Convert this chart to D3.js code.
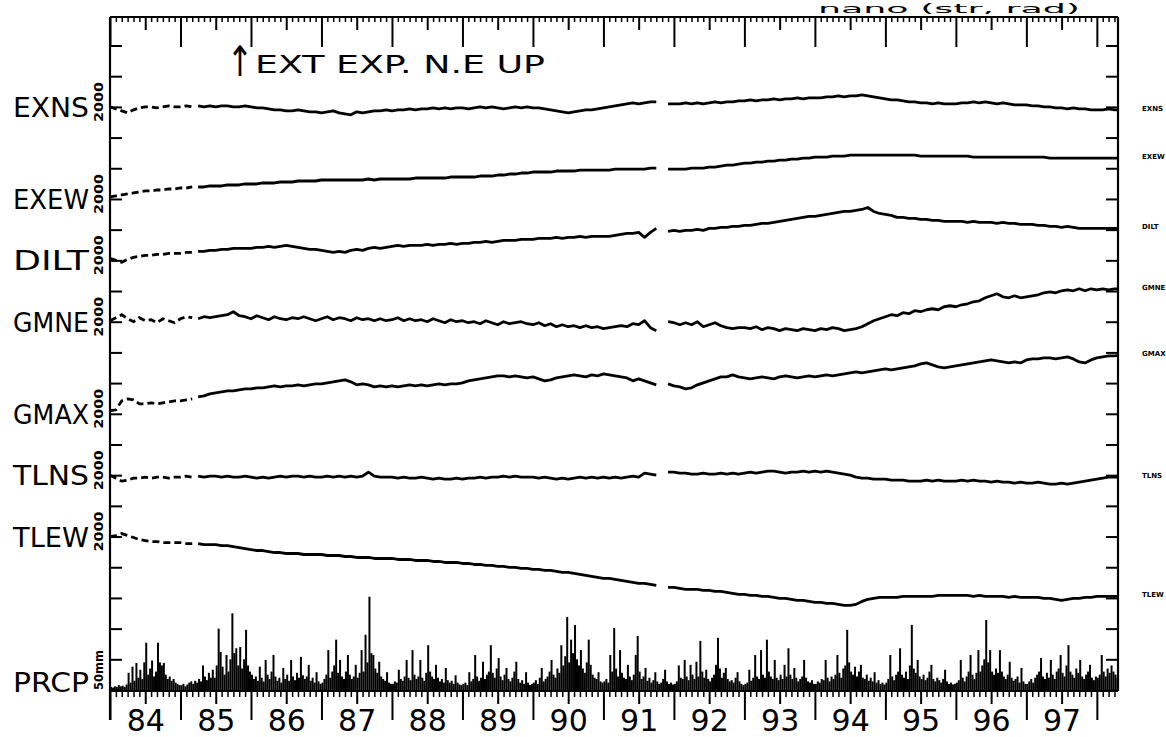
<!DOCTYPE html>
<html><head><meta charset="utf-8">
<script src="https://cdn.jsdelivr.net/npm/d3@7"></script>
<style>
html,body{margin:0;padding:0;background:#fff;}
svg{display:block;}
text{font-family:"DejaVu Sans",sans-serif;fill:#000;}
</style></head><body>
<svg id="chart" width="1166" height="737"></svg>
<script>
// ---------------- DATA ----------------
const startYear = 1984, endYear = 1998.3;
const yearLabels = ["84","85","86","87","88","89","90","91","92","93","94","95","96","97"];
const seriesNames = ["EXNS","EXEW","DILT","GMNE","GMAX","TLNS","TLEW"];
// vertical offset of each trace (nano units, 2000 per tick)
const seriesOffsets = [38000, 32000, 28000, 24000, 18000, 14000, 10000];
const scaleLabel = "2000", prcpLabel = "50mm", prcpName = "PRCP";
const annotation = "EXT EXP. N.E UP";
const unitTitle = "nano (str, rad)";
const sparseUntil = 1985.2; // early period with sparse records (dashed)

// monthly values, nano (strain / rad), from Jan 1984; null = data gap
const exns = [
  0,-130,-260,-390,-195,-65,0,0,-65,0,65,0,
  0,65,0,65,0,65,0,65,65,0,0,65,
  0,-65,-65,-130,-195,-195,-260,-260,-195,-260,-325,-325,
  -390,-325,-260,-390,-455,-520,-325,-390,-325,-260,-260,-195,
  -260,-195,-195,-130,-195,-130,-130,-65,-130,-65,-130,-65,
  -65,-130,-65,0,-65,0,-65,-130,-65,0,-65,0,
  -65,-65,-130,-195,-260,-325,-390,-325,-260,-195,-195,-130,
  -65,0,65,130,195,260,195,260,325,325,null,195,
  195,195,260,195,260,195,260,325,260,325,325,390,
  390,455,390,455,455,520,455,520,520,585,520,585,
  585,585,650,650,715,650,715,715,780,715,650,585,
  520,455,455,390,325,325,260,260,195,260,195,195,
  195,260,260,325,260,325,260,195,260,195,130,130,
  130,65,65,0,0,-65,-65,-130,-65,-130,-130,-195,
  -195,-195,-130,-195,-195];
const exew = [
  130,195,260,325,390,455,520,520,585,585,650,650,
  715,715,780,780,780,845,845,845,910,910,910,975,
  975,975,1040,1040,1040,1105,1105,1105,1170,1170,1170,1170,
  1235,1235,1235,1235,1235,1235,1235,1235,1300,1235,1300,1300,
  1300,1300,1300,1300,1365,1365,1365,1365,1365,1365,1430,1430,
  1430,1430,1430,1495,1495,1495,1560,1560,1625,1625,1690,1690,
  1755,1755,1755,1755,1820,1820,1820,1820,1885,1885,1885,1885,
  1885,1885,1950,1950,1950,1950,1950,1950,2015,2015,null,1950,
  1950,1950,1950,2015,2015,2015,2080,2080,2145,2210,2210,2275,
  2340,2340,2405,2405,2470,2470,2535,2535,2600,2600,2665,2665,
  2730,2730,2730,2795,2795,2795,2860,2860,2860,2860,2860,2860,
  2860,2860,2860,2860,2860,2860,2795,2795,2795,2795,2795,2795,
  2795,2795,2795,2730,2730,2730,2730,2730,2730,2730,2730,2730,
  2730,2730,2730,2730,2665,2665,2665,2665,2665,2665,2665,2665,
  2665,2665,2665,2665,2665];
const dilt = [
  130,0,-130,65,195,260,325,325,390,390,455,455,
  455,520,520,585,585,650,650,715,715,780,780,780,
  780,845,845,910,845,910,975,910,845,780,715,715,
  650,585,520,585,520,650,715,650,780,845,780,845,
  910,975,910,975,975,975,1040,975,1040,1040,1105,1040,
  1105,1105,1170,1170,1235,1170,1235,1300,1300,1300,1365,1365,
  1365,1430,1430,1430,1495,1430,1495,1495,1560,1495,1560,1560,
  1560,1560,1625,1690,1755,1755,1820,1495,1820,2080,null,1885,
  1950,1885,1950,1950,2015,1950,2080,2080,2145,2145,2210,2210,
  2275,2275,2340,2405,2405,2470,2535,2600,2665,2730,2795,2860,
  2860,2925,2990,3055,3120,3185,3185,3250,3315,3445,3185,3055,
  2990,2925,2795,2795,2730,2730,2665,2665,2600,2600,2535,2535,
  2535,2535,2470,2535,2470,2470,2470,2405,2470,2405,2405,2340,
  2340,2340,2275,2275,2210,2210,2145,2210,2145,2080,2080,2080,
  2080,2080,2080,2080,2080];
const gmne = [
  65,260,455,195,0,260,65,130,-65,195,65,-65,
  195,325,260,195,325,260,325,390,455,650,390,325,
  195,390,260,130,325,195,130,260,195,325,195,65,
  195,325,130,260,195,65,260,130,195,65,195,65,
  130,260,65,195,65,130,0,195,65,-65,130,0,
  65,-65,0,-130,65,-65,-195,0,-130,-65,0,-130,
  -195,-65,-260,-130,-325,-195,-325,-260,-390,-260,-390,-325,
  -455,-390,-325,-260,-325,-130,-195,65,-390,-585,null,0,
  -65,-195,-65,-195,0,-325,-195,-65,-260,-390,-455,-390,
  -390,-455,-325,-520,-390,-455,-585,-455,-520,-585,-455,-520,
  -585,-455,-520,-390,-455,-585,-520,-455,-325,-130,65,195,
  325,455,390,585,520,715,650,780,845,780,975,1040,
  975,1105,1170,1300,1365,1560,1690,1820,1625,1560,1690,1560,
  1625,1690,1755,1885,1950,1885,2015,2080,2015,2145,2015,2145,
  2080,2145,2080,2145,2145];
const gmax = [
  195,260,845,975,910,650,650,715,650,715,780,845,
  845,910,975,1105,1170,1300,1365,1430,1495,1495,1560,1625,
  1625,1690,1690,1755,1820,1755,1820,1820,1885,1820,1885,1950,
  1950,2015,2080,2145,2210,2080,1885,1950,1885,1755,1820,1755,
  1820,1755,1820,1885,1820,1885,1820,1885,1950,1885,1950,1950,
  2015,2145,2210,2275,2340,2405,2470,2470,2405,2470,2405,2340,
  2405,2275,2145,2210,2340,2405,2470,2535,2470,2405,2535,2470,
  2600,2535,2470,2405,2340,2145,2275,2145,2015,1885,null,1950,
  1820,1755,1625,1690,1885,2015,2145,2275,2405,2405,2535,2405,
  2340,2275,2340,2405,2340,2275,2405,2470,2405,2340,2405,2470,
  2405,2470,2535,2470,2535,2600,2665,2730,2665,2730,2795,2860,
  2925,2860,2925,2990,3055,3120,3250,3315,3185,3055,2990,3055,
  3120,3185,3250,3315,3380,3445,3510,3445,3380,3315,3380,3315,
  3510,3575,3575,3640,3640,3575,3640,3705,3575,3380,3315,3510,
  3640,3705,3770,3770,3835];
const tlns = [
  0,-195,-390,-325,-195,-195,-130,-195,-130,-130,-195,-130,
  -130,-65,-130,-65,-130,-65,-65,-130,-65,-130,-130,-65,
  -130,-195,-130,-195,-130,-65,-130,-65,-65,-130,-65,-130,
  -130,-65,-130,-65,-130,-65,-130,-65,195,-65,-130,-130,
  -130,-195,-130,-195,-195,-130,-195,-260,-195,-260,-260,-195,
  -260,-195,-195,-130,-195,-130,-130,-65,-130,-65,-130,-130,
  -130,-195,-130,-195,-260,-195,-260,-195,-130,-195,-130,-195,
  -130,-195,-130,-195,-130,-65,-130,130,65,0,null,195,
  195,130,130,65,65,130,65,65,130,65,130,65,
  130,195,130,195,260,260,195,130,195,195,260,195,
  260,195,260,195,130,65,0,-130,-195,-195,-260,-260,
  -260,-325,-325,-325,-390,-390,-390,-325,-390,-325,-390,-390,
  -390,-325,-390,-325,-390,-390,-455,-390,-455,-455,-520,-455,
  -520,-520,-455,-520,-585,-585,-520,-585,-520,-455,-390,-325,
  -260,-195,-130,-130,-130];
const tlew = [
  0,65,195,65,-65,-195,-260,-325,-325,-390,-390,-390,
  -390,-455,-455,-455,-520,-520,-520,-585,-585,-650,-715,-780,
  -845,-910,-910,-975,-1040,-1040,-1105,-1105,-1105,-1170,-1170,-1170,
  -1170,-1235,-1235,-1235,-1300,-1300,-1365,-1365,-1365,-1430,-1430,-1430,
  -1430,-1495,-1495,-1495,-1560,-1560,-1560,-1625,-1625,-1690,-1690,-1690,
  -1755,-1755,-1820,-1820,-1885,-1885,-1950,-1950,-2015,-2015,-2080,-2080,
  -2145,-2145,-2210,-2210,-2275,-2340,-2340,-2405,-2470,-2535,-2600,-2665,
  -2730,-2730,-2795,-2860,-2925,-2990,-3055,-3055,-3120,-3185,null,-3315,
  -3315,-3380,-3445,-3445,-3445,-3510,-3510,-3575,-3575,-3640,-3705,-3770,
  -3770,-3835,-3835,-3900,-3900,-3965,-4030,-4030,-4095,-4160,-4160,-4225,
  -4290,-4290,-4355,-4355,-4420,-4485,-4485,-4420,-4225,-4095,-4030,-3965,
  -3965,-3965,-3965,-3900,-3900,-3900,-3900,-3900,-3900,-3835,-3835,-3835,
  -3835,-3835,-3835,-3900,-3835,-3900,-3900,-3900,-3900,-3965,-3900,-3965,
  -3965,-3965,-3965,-4030,-4030,-4095,-4160,-4095,-4030,-4030,-3965,-3965,
  -3900,-3900,-3900,-3900,-3900];

// precipitation, mm per ~10-day step (36 per year) from Jan 1984
const prcp = [
  5,4,6,5,8,6,7,5,9,28,12,38,15,44,20,33,18,45,77,25,35,48,22,30,77,45,40,44,25,18,22,15,18,12,10,8,
  8,10,6,9,12,14,10,15,12,18,14,40,22,16,28,20,33,20,40,100,62,38,25,57,30,50,125,60,68,40,70,35,50,98,40,30,
  25,18,22,15,38,20,14,49,25,18,30,57,22,15,20,12,36,18,25,15,49,22,16,28,20,54,24,18,22,41,15,20,12,29,14,10,
  12,18,25,65,20,30,40,82,28,49,22,18,30,57,25,18,22,41,20,28,65,30,90,45,152,60,57,35,28,46,22,18,15,29,12,10,
  10,14,12,33,18,15,22,49,20,16,65,25,18,22,49,20,15,28,73,30,22,18,41,20,14,18,12,36,16,12,15,10,24,12,9,8,
  10,12,8,29,14,18,57,22,15,20,46,18,25,30,73,28,20,35,52,22,16,25,36,18,14,20,30,46,18,12,16,10,29,12,8,10,
  12,16,10,20,36,14,18,22,30,49,25,20,35,28,73,40,55,119,45,82,60,106,50,40,65,35,28,45,82,41,25,20,18,29,14,12,
  14,18,12,57,30,101,35,22,65,28,20,18,41,22,16,25,57,88,30,18,22,36,15,20,12,16,29,14,10,12,18,33,14,10,12,9,
  10,14,40,20,18,49,22,16,41,25,18,46,22,80,30,20,33,18,14,20,25,41,85,35,20,28,36,18,14,16,12,20,29,14,10,8,
  10,12,33,15,20,57,22,18,65,25,20,82,30,22,18,49,20,16,25,18,41,22,68,25,18,36,20,14,18,22,49,20,14,12,16,10,
  10,14,12,18,16,49,20,14,22,18,25,57,28,20,35,40,98,45,30,25,38,22,30,41,20,18,25,15,20,14,29,12,16,10,12,9,
  12,18,57,22,16,25,30,68,25,20,30,18,40,106,35,28,49,22,18,25,16,20,30,41,18,14,20,16,12,18,33,14,10,12,9,10,
  12,16,49,20,14,22,30,57,25,18,28,65,30,40,50,114,45,65,30,25,35,28,65,30,22,18,25,46,20,15,18,22,12,36,14,10,
  10,14,18,12,20,25,30,52,22,18,28,20,49,25,18,30,35,57,28,22,40,73,30,25,20,35,28,49,22,18,25,30,41,20,16,22,
  20,25,57,30,22,35,28,40,30,25,20];

const seriesData = [exns, exew, dilt, gmne, gmax, tlns, tlew];

// ---------------- LAYOUT ----------------
const svg = d3.select("#chart");
const plotLeft = 110, plotRight = 1118, plotTop = 17, axisY = 691;
const x = d3.scaleLinear().domain([startYear, endYear]).range([plotLeft, plotRight]);
const y = d3.scaleLinear().domain([0, 42000]).range([690, 45.5]);      // nano, stacked
const yP = d3.scaleLinear().domain([0, 1050]).range([690, 45.5]);     // mm (50 mm per tick)

svg.append("defs").append("clipPath").attr("id","plotclip")
  .append("rect").attr("x",plotLeft).attr("y",plotTop).attr("width",plotRight-plotLeft).attr("height",axisY-plotTop);

// tick sets
const yearTicks = d3.range(startYear, 1999);
const midTicks = d3.range(startYear + 0.5, 1998, 1);
const monthTicks = d3.range(0, 172).map(i => startYear + i/12).filter(t => (Math.round(t*12) % 6) !== 0 && t <= endYear);

function styleAxis(g, w){
  g.select(".domain").remove();
  g.selectAll(".tick line").attr("stroke","#000").attr("stroke-width", w);
}
// top axis (ticks pointing down into plot)
[[monthTicks,5,1.5],[midTicks,13,2],[yearTicks,30,2]].forEach(([tv,sz,w]) => {
  svg.append("g").attr("transform",`translate(0,${plotTop})`)
    .call(d3.axisBottom(x).tickValues(tv).tickSize(sz).tickFormat(""))
    .call(g => styleAxis(g,w));
});
// bottom axis (ticks pointing down)
[[monthTicks,6,1.5],[yearTicks,29,2]].forEach(([tv,sz,w]) => {
  svg.append("g").attr("transform",`translate(0,${axisY})`)
    .call(d3.axisBottom(x).tickValues(tv).tickSize(sz).tickFormat(""))
    .call(g => styleAxis(g,w));
});
svg.append("g").attr("transform",`translate(0,${axisY})`)
  .call(d3.axisBottom(x).tickValues(midTicks).tickSize(13).tickPadding(6).tickFormat((d,i) => yearLabels[i]))
  .call(g => { styleAxis(g,2); g.selectAll("text").attr("font-size",30).attr("font-family","DejaVu Sans"); });

// left / right ticks
const rowTicks = d3.range(0, 42001, 2000);
svg.append("g").attr("transform",`translate(${plotLeft},0)`)
  .call(d3.axisRight(y).tickValues(rowTicks).tickSize(12).tickFormat(""))
  .call(g => styleAxis(g,2));
svg.append("g").attr("transform",`translate(${plotRight},0)`)
  .call(d3.axisLeft(y).tickValues(rowTicks).tickSize(12).tickFormat(""))
  .call(g => styleAxis(g,2));

// frame lines
const frame = svg.append("g").attr("stroke","#000").attr("stroke-width",2.2);
frame.append("line").attr("x1",plotLeft).attr("x2",plotRight).attr("y1",plotTop).attr("y2",plotTop);
frame.append("line").attr("x1",plotLeft).attr("x2",plotRight).attr("y1",axisY).attr("y2",axisY);
frame.append("line").attr("x1",plotLeft).attr("x2",plotLeft).attr("y1",plotTop).attr("y2",720);
frame.append("line").attr("x1",plotRight).attr("x2",plotRight).attr("y1",plotTop).attr("y2",axisY);

// precipitation bars
const pStep = 1/36;
svg.append("g").attr("clip-path","url(#plotclip)")
  .selectAll("rect").data(prcp).join("rect")
  .attr("x",(d,i) => x(startYear + (i+0.5)*pStep) - 1)
  .attr("width",2)
  .attr("y",d => yP(d))
  .attr("height",d => yP(0) - yP(d))
  .attr("fill","#000");

// traces
const traces = svg.append("g").attr("clip-path","url(#plotclip)");
seriesData.forEach((arr, si) => {
  const off = seriesOffsets[si];
  const pts = arr.map((v,i) => ({t: startYear + i/12, v}));
  const line = d3.line().defined(d => d.v !== null).x(d => x(d.t)).y(d => y(off + d.v));
  traces.append("path").attr("d", line(pts.filter(d => d.t <= sparseUntil)))
    .attr("fill","none").attr("stroke","#000").attr("stroke-width",2.8).attr("stroke-dasharray","7,4");
  traces.append("path").attr("d", line(pts.filter(d => d.t >= sparseUntil)))
    .attr("fill","none").attr("stroke","#000").attr("stroke-width",2.8).attr("stroke-linejoin","round");
  // left name
  svg.append("text").attr("x",13).attr("y",y(off)+10).attr("font-size",26)
    .attr("textLength",76).attr("lengthAdjust","spacingAndGlyphs").text(seriesNames[si]);
  // scale label
  svg.append("text").attr("transform",`translate(103,${y(off)-5}) rotate(-90)`)
    .attr("text-anchor","middle").attr("font-size",12).attr("font-weight","bold")
    .attr("textLength",40).attr("lengthAdjust","spacingAndGlyphs").text(scaleLabel);
  // right tiny label at last value
  const last = arr.filter(v => v !== null).slice(-1)[0];
  svg.append("text").attr("x",1142).attr("y",y(off + last)+1).attr("font-size",7).attr("font-weight","bold")
    .text(seriesNames[si]);
});
// precipitation labels
svg.append("text").attr("x",13).attr("y",692).attr("font-size",26)
  .attr("textLength",76).attr("lengthAdjust","spacingAndGlyphs").text(prcpName);
svg.append("text").attr("transform",`translate(103,${yP(0)}) rotate(-90)`)
  .attr("font-size",12).attr("font-weight","bold")
  .attr("textLength",40).attr("lengthAdjust","spacingAndGlyphs").text(prcpLabel);

// annotation
svg.append("text").attr("transform","translate(240,76) scale(0.75,1)").attr("text-anchor","middle")
  .attr("font-size",42).text("↑");
svg.append("text").attr("x",255).attr("y",73).attr("font-size",25)
  .attr("textLength",290).attr("lengthAdjust","spacingAndGlyphs").text(annotation);
// unit title (top edge, kept fully inside the picture)
svg.append("text").attr("x",818).attr("y",13).attr("font-size",13)
  .attr("textLength",262).attr("lengthAdjust","spacingAndGlyphs").text(unitTitle);
</script>
</body></html>
